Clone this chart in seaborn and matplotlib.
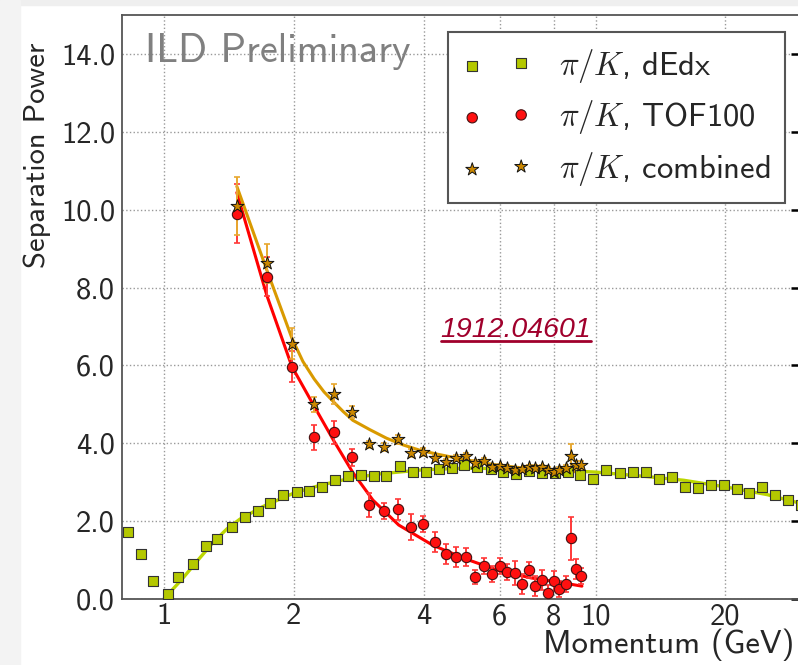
import numpy as np
import pandas as pd
import matplotlib
matplotlib.use("Agg")
import matplotlib.pyplot as plt
import seaborn as sns
from matplotlib.patches import Rectangle
from matplotlib.lines import Line2D

# dE/dx separation (squares)
dedx_p = [0.825, 0.884, 0.943, 1.02, 1.08, 1.17, 1.25, 1.33, 1.44, 1.54,
          1.65, 1.76, 1.89, 2.03, 2.17, 2.32, 2.49, 2.67, 2.86, 3.07,
          3.27, 3.52, 3.77, 4.05, 4.34, 4.65, 4.95, 5.31, 5.72, 6.10,
          6.56, 7.01, 7.52, 8.06, 8.65, 9.20, 9.86, 10.6, 11.4, 12.2,
          13.1, 14.0, 15.0, 16.1, 17.3, 18.5, 19.8, 21.3, 22.7, 24.3,
          26.1, 27.9, 29.9]
dedx_sep = [1.72, 1.15, 0.46, 0.13, 0.56, 0.90, 1.36, 1.54, 1.85, 2.10,
            2.26, 2.46, 2.67, 2.74, 2.77, 2.87, 3.05, 3.15, 3.18, 3.15,
            3.15, 3.41, 3.26, 3.26, 3.33, 3.36, 3.44, 3.38, 3.33, 3.26,
            3.21, 3.28, 3.23, 3.23, 3.26, 3.18, 3.08, 3.31, 3.23, 3.26,
            3.26, 3.08, 3.13, 2.87, 2.85, 2.92, 2.92, 2.82, 2.72, 2.87,
            2.67, 2.54, 2.41]
dedx_fit_p = [1.0, 1.1, 1.2, 1.3, 1.4, 1.5, 1.7, 2.0, 2.3, 2.7, 3.2, 4.0,
              5.0, 6.0, 7.0, 8.0, 10.0, 13.0, 16.0, 20.0, 25.0, 30.0]
dedx_fit = [0.0, 0.5, 1.0, 1.45, 1.8, 2.05, 2.38, 2.72, 2.92, 3.1, 3.22, 3.32,
            3.36, 3.35, 3.33, 3.31, 3.26, 3.15, 3.05, 2.88, 2.68, 2.45]

# TOF100 and combined (same momentum bins)
tof_p = [1.476, 1.732, 1.98, 2.23, 2.48, 2.73, 2.99, 3.23, 3.49, 3.73,
         3.98, 4.24, 4.50, 4.75, 5.00, 5.26, 5.52, 5.76, 6.00, 6.23,
         6.50, 6.76, 7.02, 7.25, 7.52, 7.77, 8.00, 8.25, 8.52, 8.77,
         9.00, 9.24]
tof_sep = [9.90, 8.28, 5.97, 4.15, 4.28, 3.64, 2.41, 2.26, 2.31, 1.85,
           1.92, 1.46, 1.15, 1.08, 1.08, 0.56, 0.85, 0.64, 0.85, 0.69,
           0.67, 0.38, 0.74, 0.33, 0.49, 0.15, 0.46, 0.26, 0.38, 1.56,
           0.77, 0.59]
tof_err = [0.75, 0.5, 0.4, 0.33, 0.3, 0.22, 0.3, 0.2, 0.27, 0.33,
           0.2, 0.25, 0.25, 0.25, 0.23, 0.18, 0.2, 0.2, 0.2, 0.2,
           0.3, 0.25, 0.2, 0.25, 0.25, 0.2, 0.25, 0.2, 0.2, 0.55,
           0.25, 0.2]
tof_fit_p = [1.476, 1.732, 1.98, 2.23, 2.48, 2.74, 3.05, 3.5, 4.2, 5.0,
             6.0, 7.1, 8.15, 9.3]
tof_fit = [10.44, 7.8, 5.97, 4.95, 4.05, 3.25, 2.54, 1.9, 1.38, 1.03,
           0.72, 0.54, 0.44, 0.33]

comb_sep = [10.1, 8.62, 6.56, 5.0, 5.26, 4.8, 3.97, 3.9, 4.1, 3.74,
            3.77, 3.62, 3.51, 3.62, 3.67, 3.49, 3.54, 3.38, 3.41, 3.36,
            3.31, 3.33, 3.38, 3.36, 3.38, 3.31, 3.26, 3.31, 3.36, 3.67,
            3.44, 3.44]
comb_err = [0.75, 0.5, 0.4, 0.2, 0.25, 0.15, 0.1, 0.1, 0.12, 0.1,
            0.1, 0.08, 0.08, 0.08, 0.08, 0.07, 0.07, 0.07, 0.07, 0.07,
            0.07, 0.07, 0.07, 0.07, 0.07, 0.07, 0.07, 0.07, 0.07, 0.3,
            0.1, 0.1]
comb_fit_p = [1.476, 1.732, 1.98, 2.1, 2.23, 2.35, 2.48, 2.6, 2.74, 3.0,
              3.28, 3.6, 3.92, 4.3, 4.67, 5.4, 6.0, 7.0, 8.0, 9.3]
comb_fit = [10.6, 8.45, 6.7, 6.1, 5.65, 5.32, 5.05, 4.82, 4.59, 4.35,
            4.13, 3.95, 3.82, 3.72, 3.64, 3.51, 3.43, 3.35, 3.30, 3.26]

x_ticks = [1, 2, 4, 6, 8, 10, 20]
x_minor = [0.9, 3, 5, 7, 9, 30]
y_ticks = [0, 2, 4, 6, 8, 10, 12, 14]

sns.set_style("white")
plt.rcParams['font.family'] = ['cmss10', 'DejaVu Sans']
plt.rcParams['mathtext.fontset'] = 'cm'
plt.rcParams['axes.unicode_minus'] = False

fig = plt.figure(figsize=(7.98, 6.65), dpi=100)
# screenshot-like grey margin
fig.patches.append(Rectangle((0, 1 - 5/665), 1, 5/665, transform=fig.transFigure,
                             color='#efefef', zorder=-5))
fig.patches.append(Rectangle((0, 0), 20/798, 1, transform=fig.transFigure,
                             color='#f3f3f3', zorder=-5))
ax = fig.add_axes([122/798, 66/665, 679.5/798, 584/665])
ax.set_xscale('log')

c_dedx, c_tof, c_comb = '#b4c800', '#ff1010', '#cc8800'

df_dedx = pd.DataFrame({'p': dedx_p, 'sep': dedx_sep})
df_tof = pd.DataFrame({'p': tof_p, 'sep': tof_sep, 'err': tof_err})
df_comb = pd.DataFrame({'p': tof_p, 'sep': comb_sep, 'err': comb_err})

# fit curves
sns.lineplot(x=dedx_fit_p, y=dedx_fit, ax=ax, color='#bcd600', lw=2.4,
             sort=False, estimator=None, zorder=2)
sns.lineplot(x=tof_fit_p, y=tof_fit, ax=ax, color='#ff0000', lw=2.2,
             sort=False, estimator=None, zorder=2)
sns.lineplot(x=comb_fit_p, y=comb_fit, ax=ax, color='#d99a00', lw=2.2,
             sort=False, estimator=None, zorder=2)

# error bars
ax.errorbar(df_tof.p, df_tof.sep, yerr=df_tof.err, fmt='none', ecolor='#ff3838',
            elinewidth=1.4, capsize=2.5, capthick=1.2, zorder=3)
ax.errorbar(df_comb.p, df_comb.sep, yerr=df_comb.err, fmt='none', ecolor='#e8a830',
            elinewidth=1.4, capsize=2.5, capthick=1.2, zorder=3)

# markers
sns.scatterplot(data=df_dedx, x='p', y='sep', ax=ax, marker='s', s=48,
                color=c_dedx, edgecolor='#333333', linewidth=0.8, zorder=4,
                label=r'$\pi/K$, dEdx')
sns.scatterplot(data=df_tof, x='p', y='sep', ax=ax, marker='o', s=55,
                color=c_tof, edgecolor='#441111', linewidth=0.8, zorder=5,
                label=r'$\pi/K$, TOF100')
sns.scatterplot(data=df_comb, x='p', y='sep', ax=ax, marker='*', s=95,
                color=c_comb, edgecolor='#111111', linewidth=0.7, zorder=6,
                label=r'$\pi/K$, combined')

ax.set_xlim(0.8, 30)
ax.set_ylim(0, 15)
ax.set_xticks(x_ticks, [str(t) for t in x_ticks])
ax.set_xticks(x_minor, minor=True)
ax.set_xticklabels([], minor=True)
ax.set_yticks(y_ticks, ['%.1f' % t for t in y_ticks])

ax.grid(True, which='major', color='#999999', ls=':', lw=1.0)
for s in ax.spines.values():
    s.set_color('#555555')
    s.set_linewidth(1.3)
ax.tick_params(which='major', direction='in', length=7, width=1.8, color='black',
               labelsize=22, pad=5, right=True, top=False)
ax.tick_params(axis='x', which='major', pad=3)
ax.tick_params(which='minor', direction='in', length=3, width=1.0, color='black',
               right=False, top=False)

ax.set_xlabel('Momentum (GeV)', fontsize=23.5, loc='right')
ax.xaxis.set_label_coords(0.99, -0.05)
ax.xaxis.label.set_va('top')
ax.set_ylabel('Separation Power', fontsize=22, loc='top')
ax.yaxis.set_label_coords(-0.104, 0.952)

ax.text(0.034, 0.9195, 'ILD Preliminary', transform=ax.transAxes, fontsize=29,
        color='#808080', va='baseline', ha='left')

ref = ax.text(0.469, 0.4486, '1912.04601', transform=ax.transAxes, fontsize=20.5,
              color='#a0002c', style='italic', va='baseline', ha='left',
              family=['Liberation Sans', 'DejaVu Sans'])
fig.canvas.draw()
bb = ref.get_window_extent().transformed(ax.transAxes.inverted())
ax.add_line(Line2D([bb.x0, bb.x1], [bb.y0 + 0.004, bb.y0 + 0.004], transform=ax.transAxes,
                   color='#a0002c', lw=2.0))

leg = ax.legend(loc='upper right', bbox_to_anchor=(0.976, 0.971), scatterpoints=2,
                fontsize=23.5, markerscale=1.0, frameon=True, fancybox=False,
                handlelength=2.1, handletextpad=0.86, labelspacing=0.42,
                borderpad=0.45, borderaxespad=0)
leg.get_frame().set_edgecolor('#555555')
leg.get_frame().set_linewidth(1.5)
leg.get_frame().set_alpha(1)

fig.savefig('out.png', dpi=100)
